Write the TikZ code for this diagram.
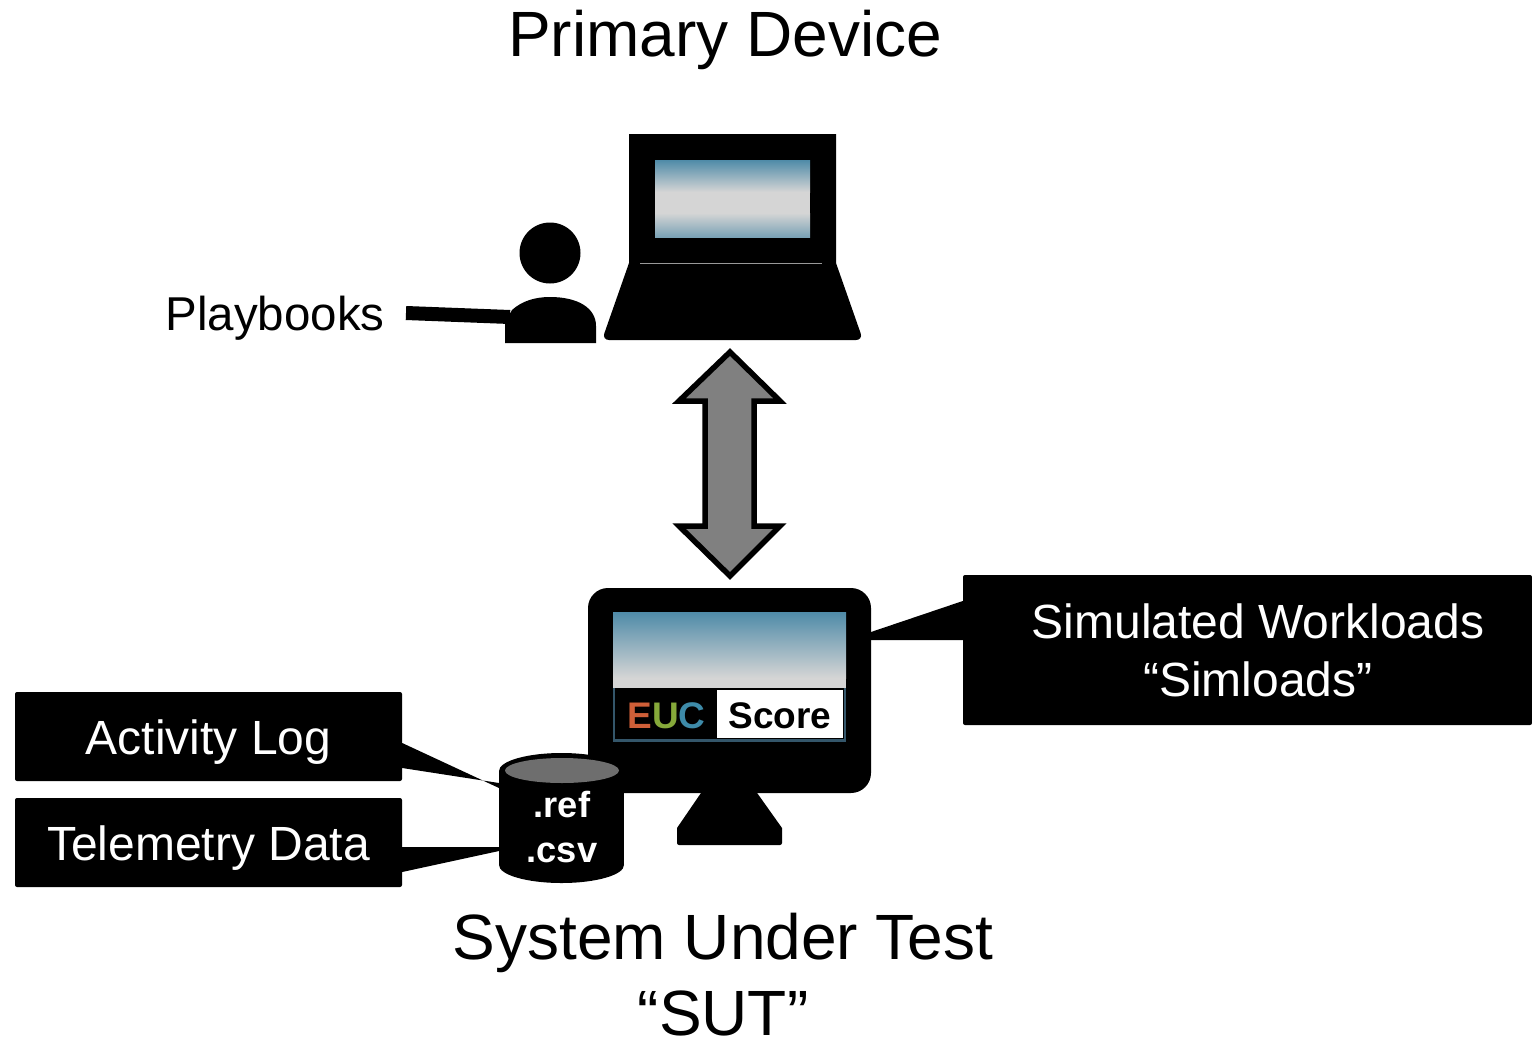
\documentclass[tikz,border=0pt]{standalone}
\usepackage{fontspec}
\setmainfont{Liberation Sans}
\definecolor{scrblue}{HTML}{4F8BA8}
\definecolor{scrgray}{HTML}{D5D5D5}
\definecolor{scrlow}{HTML}{7AA2B5}
\definecolor{eucE}{HTML}{CF5F38}
\definecolor{eucU}{HTML}{86A93A}
\definecolor{eucC}{HTML}{3E8BA9}
\definecolor{edgeb}{HTML}{34566A}
\definecolor{arrowg}{HTML}{808080}
\definecolor{dbtop}{HTML}{6E6E6E}
\newcommand{\fs}[1]{\fontsize{#1pt}{#1pt}\selectfont}
\tikzset{
  title/.style={anchor=base,inner sep=0pt,text=black,font=\fs{64}},
  plain/.style={anchor=base,inner sep=0pt,text=black,font=\fs{47.5}},
  blackbox/.style={fill=black,rounded corners=2pt,inner sep=0pt,text=white,font=\fs{48},align=center},
  dbtext/.style={anchor=base,inner sep=0pt,text=white,font=\bfseries\fs{36.3}},
  wedge/.style={fill=black,draw=none},
}
\begin{document}
\begin{tikzpicture}[x=1pt,y=-1pt]
\useasboundingbox (0,0) rectangle (1532,1039);
\fill[white] (0,0) rectangle (1532,1039);

% titles
\node[title] (primary) at (725,56) {Primary Device};
\node[title] (sut1) at (723,959) {System Under Test};
\node[title] (sut2) at (723,1035) {“SUT”};

% laptop
\fill[black,rounded corners=7pt] (629,134) [sharp corners] -- (836,134) -- (836,263) [rounded corners=7pt] -- (863,340) -- (602,340) [sharp corners] -- (629,263) -- cycle;
\fill[black] (629,134) rectangle (836,263);
\shade[top color=scrblue,bottom color=scrgray] (655,160) rectangle (810,192);
\fill[scrgray] (655,191.5) rectangle (810,213.5);
\shade[top color=scrgray,bottom color=scrlow] (655,213) rectangle (810,237);
\draw[gray!80,line width=1pt] (640,263) -- (822,263);

% person
\fill[black] (550,253) circle (30.5);
\fill[black] (505,343) -- (505,322) -- (512,310) .. controls (522,301) and (535,297) .. (550,297)
  .. controls (578,297) and (596,308) .. (596,326) -- (596,343) -- cycle;
\coordinate (person) at (510,317);
\node[plain] (playbooks) at (275,330) {Playbooks};
\coordinate (pbend) at (406,313);
\draw[black,line width=14pt] (pbend) -- (person);

% double arrow
\draw[black,line width=5.5pt,fill=arrowg,miter limit=10] (730,352) -- (780,401) -- (754,401) -- (754,526)
  -- (780,526) -- (730,576) -- (679,526) -- (705,526) -- (705,401) -- (679,401) -- cycle;

% monitor
\fill[black,rounded corners=20pt] (588,588) rectangle (871,793);
\fill[black,rounded corners=2pt] (703,790) [sharp corners] -- (755,790) -- (782,828) [rounded corners=2pt] -- (782,845) -- (677,845) [sharp corners] -- (677,828) -- cycle;
\shade[top color=scrblue,bottom color=scrgray] (613,612) rectangle (846,678);
\fill[scrgray] (613,677.5) rectangle (846,688);
\fill[edgeb] (613,688) rectangle (846,742);
\fill[black] (615,688) rectangle (844,739);
\fill[white] (717,690) rectangle (843,738);
\node[anchor=base,inner sep=0pt,font=\bfseries\fs{37}] (euc) at (666.5,728)
  {\textcolor{eucE}{E}\textcolor{eucU}{U}\textcolor{eucC}{C}};
\node[anchor=base,inner sep=0pt,font=\bfseries\fs{37},text=black] (score) at (780,728) {Score};

% boxes
\node[blackbox,minimum width=569pt,minimum height=150pt] (sim) at (1247.5,650)
  {\rule{0pt}{44pt}\hspace*{21pt}Simulated Workloads\\[10pt]\hspace*{21pt}“Simloads”\rule[-10pt]{0pt}{10pt}};
\node[blackbox,minimum width=387pt,minimum height=89pt] (act) at (208.5,736.5) {\rule{0pt}{46pt}Activity Log};
\node[blackbox,minimum width=387pt,minimum height=89pt] (tel) at (208.5,842.5) {\rule{0pt}{46pt}Telemetry Data};

% cylinder
\fill[black] (561.5,771) ellipse[x radius=62.5,y radius=18];
\fill[black] (561.5,865) ellipse[x radius=62.5,y radius=18];
\fill[black] (499,771) rectangle (624,865);
\fill[dbtop] (562,770.5) ellipse[x radius=57,y radius=12.5];
\node[dbtext] (ref) at (562,817) {.ref};
\node[dbtext] (csv) at (562,862) {.csv};
\coordinate (dbA) at (499,785.5);
\coordinate (dbB) at (499,849);

% callout wedges
\fill[wedge] ([yshift=-6.5pt]act.east) -- ([yshift=-2.5pt]dbA) -- ([yshift=2.5pt]dbA) -- ([yshift=-31.5pt]act.east) -- cycle;
\fill[wedge] ([yshift=-4.5pt]tel.east) -- ([yshift=2pt]dbB) -- ([yshift=-2pt]dbB) -- ([yshift=-29.5pt]tel.east) -- cycle;
\coordinate (monR) at (871,636);
\fill[wedge] ([yshift=49pt]sim.west) -- ([yshift=4pt]monR) -- ([yshift=-4pt]monR) -- ([yshift=10pt]sim.west) -- cycle;
\end{tikzpicture}
\end{document}
